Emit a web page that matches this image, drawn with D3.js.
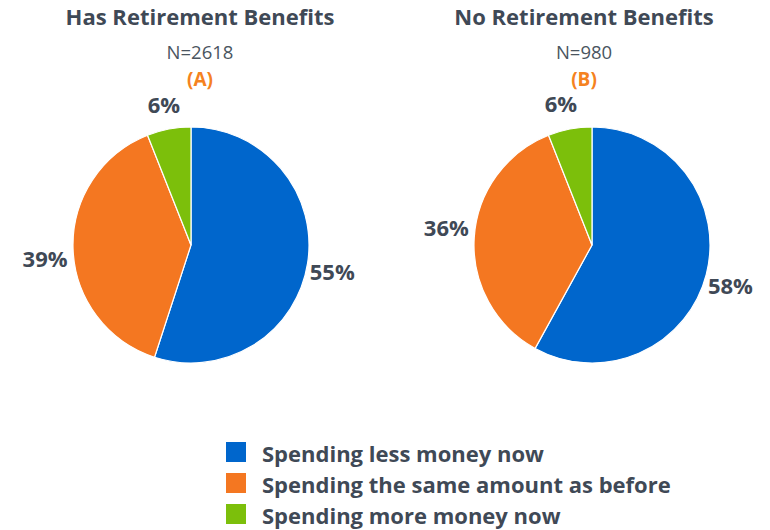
<!DOCTYPE html>
<html><head><meta charset="utf-8">
<script src="https://cdn.jsdelivr.net/npm/d3@7"></script>
<style>body{margin:0;background:#fff}svg{display:block}text{font-family:"Open Sans",sans-serif}</style>
</head><body><svg id="c" width="770" height="530"></svg>
<script>
const categories = ["Spending less money now","Spending the same amount as before","Spending more money now"];
const colors = ["#0066CC","#F47721","#7CBF0B"];
const panels = ["Has Retirement Benefits","No Retirement Benefits"];
const sampleSizes = ["N=2618","N=980"];
const panelTags = ["(A)","(B)"];
const hasBenefits = [55,39,6];
const noBenefits = [58,36,6];
const seriesValues = [hasBenefits, noBenefits];

const svg = d3.select("#c");
const textColor = "#3F4956";
const centersX = [191,592];
const titleX = [200,584];
const cy = 245, r = 118;
const pie = d3.pie().sort(null).value(d=>d);
const arc = d3.arc().innerRadius(0).outerRadius(r);
const labelArc = d3.arc().innerRadius(145).outerRadius(145);
// small layout nudges for labels [dx,dy]
const nudges = [[[-2,3],[-1,8],[0,1]],[[-2,4],[-1,-9],[-4,0]]];

seriesValues.forEach((vals,i)=>{
  const g = svg.append("g").attr("transform",`translate(${centersX[i]},${cy})`);
  const arcs = pie(vals);
  g.selectAll("path").data(arcs).join("path")
    .attr("d",arc).attr("fill",(d,j)=>colors[j])
    .attr("stroke","#fff").attr("stroke-width",1.2);
  g.selectAll("text.lbl").data(arcs).join("text").attr("class","lbl")
    .attr("x",(d,j)=>labelArc.centroid(d)[0]+nudges[i][j][0])
    .attr("y",(d,j)=>labelArc.centroid(d)[1]+nudges[i][j][1])
    .attr("text-anchor","middle").attr("dominant-baseline","central")
    .attr("font-size",22).attr("font-weight",700).attr("fill",textColor)
    .text(d=>d.value+"%");
  svg.append("text").attr("x",titleX[i]).attr("y",25).attr("text-anchor","middle")
    .attr("font-size",22).attr("font-weight",700).attr("fill",textColor).text(panels[i]);
  svg.append("text").attr("x",titleX[i]).attr("y",59).attr("text-anchor","middle")
    .attr("font-size",18.5).attr("fill","#4a5560").text(sampleSizes[i]);
  svg.append("text").attr("x",titleX[i]).attr("y",86).attr("text-anchor","middle")
    .attr("font-size",19).attr("font-weight",700).attr("fill","#F58220").text(panelTags[i]);
});

const lg = svg.append("g").attr("transform","translate(226,442)");
const rows = lg.selectAll("g").data(categories).join("g").attr("transform",(d,i)=>`translate(0,${i*31})`);
rows.append("rect").attr("width",20).attr("height",20).attr("fill",(d,i)=>colors[i]);
rows.append("text").attr("x",36).attr("y",19.5).attr("font-size",22).attr("font-weight",700)
  .attr("fill",textColor).text(d=>d);
</script></body></html>
